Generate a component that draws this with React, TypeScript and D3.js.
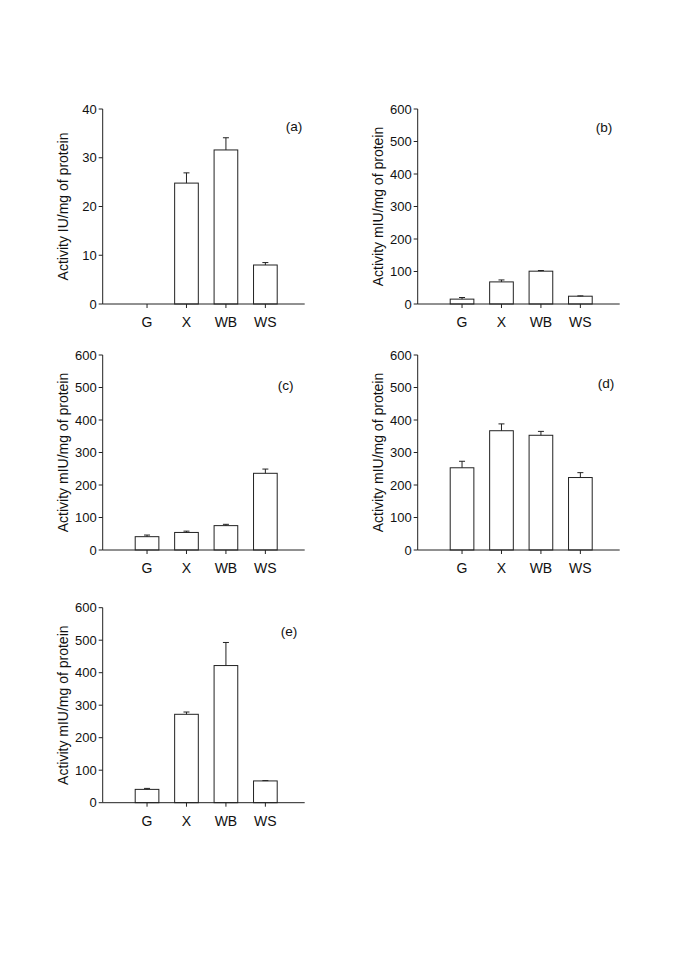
import React from "react";
import * as d3 from "d3";

const categories = ["G", "X", "WB", "WS"];

const valuesA = [0, 24.8, 31.6, 8.0];
const errorsA = [0, 2.1, 2.5, 0.5];
const valuesB = [15, 68, 101, 24];
const errorsB = [5, 6, 2, 1];
const valuesC = [41, 54, 75, 236];
const errorsC = [5, 4, 4, 13];
const valuesD = [253, 367, 353, 223];
const errorsD = [20, 21, 12, 15];
const valuesE = [41, 272, 422, 67];
const errorsE = [3, 7, 71, 1];

const yMaxA = 40;
const yMaxOthers = 600;
const yTicksA = [0, 10, 20, 30, 40];
const yTicksOthers = [0, 100, 200, 300, 400, 500, 600];
const titleIU = "Activity IU/mg of protein";
const titleMIU = "Activity mIU/mg of protein";

const FONT = "Arial, 'Liberation Sans', Helvetica, sans-serif";
const PW = 202;
const PH = 195;

type PanelProps = {
  x0: number;
  y0: number;
  values: number[];
  errors: number[];
  yMax: number;
  ticks: number[];
  title: string;
  label: string;
  lx: number;
  ly: number;
};

function Panel({ x0, y0, values, errors, yMax, ticks, title, label, lx, ly }: PanelProps) {
  const y = d3.scaleLinear().domain([0, yMax]).range([y0 + PH, y0]);
  const x = d3
    .scaleBand<string>()
    .domain(categories)
    .range([x0 + 32.5, x0 + PW - 27.5])
    .paddingInner(0.4)
    .paddingOuter(0);
  const bw = x.bandwidth();
  const base = y(0);
  return (
    <g>
      <line x1={x0} x2={x0} y1={y0} y2={base} stroke="#222" strokeWidth={1} />
      {ticks.map((t) => (
        <g key={t}>
          <line x1={x0 - 4} x2={x0} y1={y(t)} y2={y(t)} stroke="#222" strokeWidth={1} />
          <text
            x={x0 - 6}
            y={y(t)}
            dy="0.36em"
            textAnchor="end"
            fontSize={13}
            fontFamily={FONT}
            fill="#111"
          >
            {t}
          </text>
        </g>
      ))}
      {categories.map((c, i) => {
        const v = values[i];
        const e = errors[i];
        const cx = (x(c) as number) + bw / 2;
        return (
          <g key={c}>
            {v > 0 && (
              <rect
                x={x(c)}
                y={y(v)}
                width={bw}
                height={base - y(v)}
                fill="#fff"
                stroke="#222"
                strokeWidth={1}
              />
            )}
            {e > 0 && (
              <g stroke="#222" strokeWidth={1}>
                <line x1={cx} x2={cx} y1={y(v)} y2={y(v + e)} />
                <line x1={cx - 3} x2={cx + 3} y1={y(v + e)} y2={y(v + e)} />
              </g>
            )}
          </g>
        );
      })}
      <line x1={x0} x2={x0 + PW} y1={base} y2={base} stroke="#222" strokeWidth={1} />
      {categories.map((c) => {
        const cx = (x(c) as number) + bw / 2;
        return (
          <g key={c}>
            <line x1={cx} x2={cx} y1={base} y2={base + 4} stroke="#222" strokeWidth={1} />
            <text
              x={cx}
              y={base + 23.4}
              textAnchor="middle"
              fontSize={14}
              fontFamily={FONT}
              fill="#111"
            >
              {c}
            </text>
          </g>
        );
      })}
      <text
        transform={`translate(${x0 - 35},${y0 + PH / 2}) rotate(-90)`}
        textAnchor="middle"
        fontSize={14}
        fontFamily={FONT}
        fill="#111"
      >
        {title}
      </text>
      <text x={x0 + lx} y={y0 + ly} fontSize={13.6} fontFamily={FONT} fill="#111">
        {label}
      </text>
    </g>
  );
}

export default function App() {
  return (
    <svg width={685} height={969} style={{ display: "block", position: "absolute", left: 0, top: 0 }}>
      <rect width={685} height={969} fill="#fff" />
      <Panel x0={102.7} y0={109} values={valuesA} errors={errorsA} yMax={yMaxA} ticks={yTicksA} title={titleIU} label="(a)" lx={183} ly={22} />
      <Panel x0={417.7} y0={109} values={valuesB} errors={errorsB} yMax={yMaxOthers} ticks={yTicksOthers} title={titleMIU} label="(b)" lx={178} ly={23} />
      <Panel x0={102.7} y0={355} values={valuesC} errors={errorsC} yMax={yMaxOthers} ticks={yTicksOthers} title={titleMIU} label="(c)" lx={175} ly={35} />
      <Panel x0={417.7} y0={355} values={valuesD} errors={errorsD} yMax={yMaxOthers} ticks={yTicksOthers} title={titleMIU} label="(d)" lx={180} ly={33} />
      <Panel x0={102.7} y0={607.7} values={valuesE} errors={errorsE} yMax={yMaxOthers} ticks={yTicksOthers} title={titleMIU} label="(e)" lx={178} ly={28} />
    </svg>
  );
}
